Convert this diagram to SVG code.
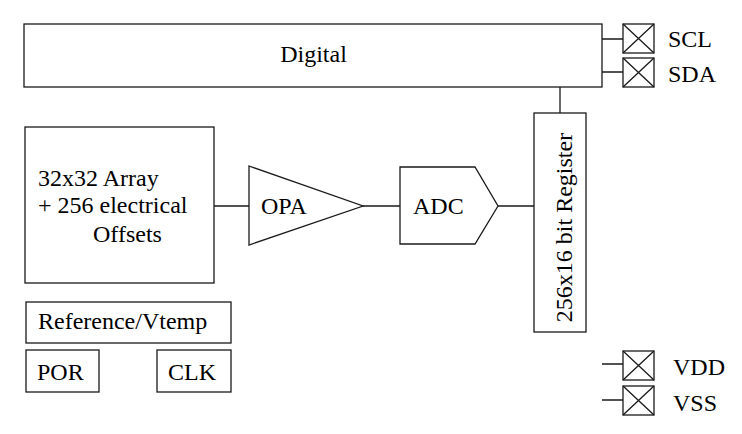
<svg xmlns="http://www.w3.org/2000/svg" width="742" height="434" viewBox="0 0 742 434">
<style>
.b{fill:#fff;stroke:#1a1a1a;stroke-width:1.3}
.w{fill:none;stroke:#1a1a1a;stroke-width:1.3}
text{font-family:"Liberation Serif","Times New Roman",serif;font-size:24px;fill:#000}
</style>
<defs>
<g id="pad"><rect class="b" x="0" y="0" width="31" height="29"/><path class="w" d="M0 0L31 29M31 0L0 29"/></g>
</defs>
<rect width="742" height="434" fill="#fff"/>
<g id="connectors">
<path class="w" d="M602 39H623M602 72H623M560 87V113M214 206H249M363 206H400M498 206H534M602 364H623M602 400H623"/>
</g>
<g id="digital"><rect class="b" x="24" y="24" width="578" height="63"/><text x="313.5" y="62" text-anchor="middle">Digital</text></g>
<g id="scl"><use href="#pad" x="623" y="24"/><text x="668" y="47">SCL</text></g>
<g id="sda"><use href="#pad" x="623" y="58"/><text x="668" y="82">SDA</text></g>
<g id="array"><rect class="b" x="25" y="127" width="189" height="156"/>
<text x="38" y="186">32x32 Array</text>
<text x="38" y="213">+ 256 electrical</text>
<text x="93" y="242">Offsets</text></g>
<g id="opa"><path class="b" d="M249 166L363 206L249 245Z"/><text x="261" y="214">OPA</text></g>
<g id="adc"><path class="b" d="M400 167H475L498 206L475 244H400Z"/><text x="413" y="214">ADC</text></g>
<g id="register"><rect class="b" x="534" y="113" width="52" height="219"/><text transform="translate(571.5 227.5) rotate(-90)" text-anchor="middle">256x16 bit Register</text></g>
<g id="reference"><rect class="b" x="26" y="302" width="205" height="41"/><text x="38" y="329">Reference/Vtemp</text></g>
<g id="por"><rect class="b" x="26" y="350" width="73" height="42"/><text x="37" y="380">POR</text></g>
<g id="clk"><rect class="b" x="157" y="350" width="74" height="42"/><text x="168" y="380">CLK</text></g>
<g id="vdd"><use href="#pad" x="623" y="351"/><text x="673" y="375">VDD</text></g>
<g id="vss"><use href="#pad" x="623" y="386"/><text x="673" y="411">VSS</text></g>
</svg>
